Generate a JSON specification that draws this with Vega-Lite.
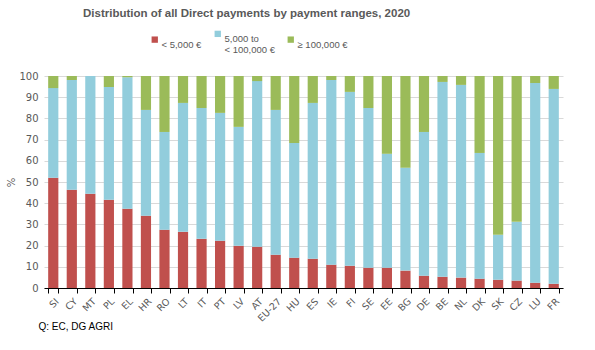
{
  "$schema": "https://vega.github.io/schema/vega-lite/v6.json",
  "width": 519,
  "height": 212,
  "autosize": {"type": "none"},
  "padding": {"left": 44, "top": 76, "right": 32, "bottom": 62},
  "background": "white",
  "title": {
    "text": "Distribution of all Direct payments by payment ranges, 2020",
    "anchor": "start",
    "frame": "group",
    "dx": 39,
    "offset": 10,
    "font": "Liberation Sans",
    "fontSize": 11.5,
    "fontWeight": "bold",
    "color": "#595959"
  },
  "data": {
    "values": [
      {"country": "SI", "range": "< 5,000 €", "value": 52.0},
      {"country": "SI", "range": "5,000 to < 100,000 €", "value": 42.3},
      {"country": "SI", "range": "≥ 100,000 €", "value": 5.7},
      {"country": "CY", "range": "< 5,000 €", "value": 46.3},
      {"country": "CY", "range": "5,000 to < 100,000 €", "value": 51.8},
      {"country": "CY", "range": "≥ 100,000 €", "value": 1.9},
      {"country": "MT", "range": "< 5,000 €", "value": 44.4},
      {"country": "MT", "range": "5,000 to < 100,000 €", "value": 55.6},
      {"country": "MT", "range": "≥ 100,000 €", "value": 0.0},
      {"country": "PL", "range": "< 5,000 €", "value": 41.6},
      {"country": "PL", "range": "5,000 to < 100,000 €", "value": 53.2},
      {"country": "PL", "range": "≥ 100,000 €", "value": 5.2},
      {"country": "EL", "range": "< 5,000 €", "value": 37.4},
      {"country": "EL", "range": "5,000 to < 100,000 €", "value": 62.0},
      {"country": "EL", "range": "≥ 100,000 €", "value": 0.6},
      {"country": "HR", "range": "< 5,000 €", "value": 34.1},
      {"country": "HR", "range": "5,000 to < 100,000 €", "value": 49.9},
      {"country": "HR", "range": "≥ 100,000 €", "value": 16.0},
      {"country": "RO", "range": "< 5,000 €", "value": 27.5},
      {"country": "RO", "range": "5,000 to < 100,000 €", "value": 46.1},
      {"country": "RO", "range": "≥ 100,000 €", "value": 26.4},
      {"country": "LT", "range": "< 5,000 €", "value": 26.5},
      {"country": "LT", "range": "5,000 to < 100,000 €", "value": 60.8},
      {"country": "LT", "range": "≥ 100,000 €", "value": 12.7},
      {"country": "IT", "range": "< 5,000 €", "value": 23.2},
      {"country": "IT", "range": "5,000 to < 100,000 €", "value": 61.7},
      {"country": "IT", "range": "≥ 100,000 €", "value": 15.1},
      {"country": "PT", "range": "< 5,000 €", "value": 22.3},
      {"country": "PT", "range": "5,000 to < 100,000 €", "value": 60.3},
      {"country": "PT", "range": "≥ 100,000 €", "value": 17.4},
      {"country": "LV", "range": "< 5,000 €", "value": 19.9},
      {"country": "LV", "range": "5,000 to < 100,000 €", "value": 56.1},
      {"country": "LV", "range": "≥ 100,000 €", "value": 24.0},
      {"country": "AT", "range": "< 5,000 €", "value": 19.5},
      {"country": "AT", "range": "5,000 to < 100,000 €", "value": 78.1},
      {"country": "AT", "range": "≥ 100,000 €", "value": 2.4},
      {"country": "EU-27", "range": "< 5,000 €", "value": 15.7},
      {"country": "EU-27", "range": "5,000 to < 100,000 €", "value": 68.3},
      {"country": "EU-27", "range": "≥ 100,000 €", "value": 16.0},
      {"country": "HU", "range": "< 5,000 €", "value": 14.3},
      {"country": "HU", "range": "5,000 to < 100,000 €", "value": 54.1},
      {"country": "HU", "range": "≥ 100,000 €", "value": 31.6},
      {"country": "ES", "range": "< 5,000 €", "value": 13.8},
      {"country": "ES", "range": "5,000 to < 100,000 €", "value": 73.5},
      {"country": "ES", "range": "≥ 100,000 €", "value": 12.7},
      {"country": "IE", "range": "< 5,000 €", "value": 11.0},
      {"country": "IE", "range": "5,000 to < 100,000 €", "value": 87.1},
      {"country": "IE", "range": "≥ 100,000 €", "value": 1.9},
      {"country": "FI", "range": "< 5,000 €", "value": 10.5},
      {"country": "FI", "range": "5,000 to < 100,000 €", "value": 82.0},
      {"country": "FI", "range": "≥ 100,000 €", "value": 7.5},
      {"country": "SE", "range": "< 5,000 €", "value": 9.6},
      {"country": "SE", "range": "5,000 to < 100,000 €", "value": 75.3},
      {"country": "SE", "range": "≥ 100,000 €", "value": 15.1},
      {"country": "EE", "range": "< 5,000 €", "value": 9.6},
      {"country": "EE", "range": "5,000 to < 100,000 €", "value": 53.7},
      {"country": "EE", "range": "≥ 100,000 €", "value": 36.7},
      {"country": "BG", "range": "< 5,000 €", "value": 8.2},
      {"country": "BG", "range": "5,000 to < 100,000 €", "value": 48.5},
      {"country": "BG", "range": "≥ 100,000 €", "value": 43.3},
      {"country": "DE", "range": "< 5,000 €", "value": 5.8},
      {"country": "DE", "range": "5,000 to < 100,000 €", "value": 67.8},
      {"country": "DE", "range": "≥ 100,000 €", "value": 26.4},
      {"country": "BE", "range": "< 5,000 €", "value": 5.3},
      {"country": "BE", "range": "5,000 to < 100,000 €", "value": 91.9},
      {"country": "BE", "range": "≥ 100,000 €", "value": 2.8},
      {"country": "NL", "range": "< 5,000 €", "value": 4.9},
      {"country": "NL", "range": "5,000 to < 100,000 €", "value": 90.9},
      {"country": "NL", "range": "≥ 100,000 €", "value": 4.2},
      {"country": "DK", "range": "< 5,000 €", "value": 4.4},
      {"country": "DK", "range": "5,000 to < 100,000 €", "value": 59.3},
      {"country": "DK", "range": "≥ 100,000 €", "value": 36.3},
      {"country": "SK", "range": "< 5,000 €", "value": 3.9},
      {"country": "SK", "range": "5,000 to < 100,000 €", "value": 21.2},
      {"country": "SK", "range": "≥ 100,000 €", "value": 74.9},
      {"country": "CZ", "range": "< 5,000 €", "value": 3.5},
      {"country": "CZ", "range": "5,000 to < 100,000 €", "value": 27.7},
      {"country": "CZ", "range": "≥ 100,000 €", "value": 68.8},
      {"country": "LU", "range": "< 5,000 €", "value": 2.5},
      {"country": "LU", "range": "5,000 to < 100,000 €", "value": 94.2},
      {"country": "LU", "range": "≥ 100,000 €", "value": 3.3},
      {"country": "FR", "range": "< 5,000 €", "value": 2.0},
      {"country": "FR", "range": "5,000 to < 100,000 €", "value": 91.9},
      {"country": "FR", "range": "≥ 100,000 €", "value": 6.1}
    ]
  },
  "transform": [
    {"calculate": "indexof(['< 5,000 €', '5,000 to < 100,000 €', '≥ 100,000 €'], datum.range)", "as": "stackOrder"}
  ],
  "mark": {"type": "bar"},
  "encoding": {
    "x": {
      "field": "country",
      "type": "nominal",
      "sort": null,
      "scale": {"paddingInner": 0.45, "paddingOuter": 0.225},
      "axis": {
        "title": "Q: EC, DG AGRI",
        "titleAnchor": "start",
        "titleAlign": "left",
        "titleX": -6,
        "titleY": 38,
        "titleBaseline": "middle",
        "titleFont": "Liberation Sans",
        "titleFontSize": 10,
        "titleFontWeight": "normal",
        "titleColor": "#000000",
        "labelAngle": -45,
        "labelFont": "DejaVu Sans",
        "labelFontSize": 9.5,
        "labelColor": "#595959",
        "labelPadding": 3,
        "tickBand": "extent",
        "tickColor": "#000000",
        "tickSize": 5,
        "domainColor": "#000000",
        "grid": false
      }
    },
    "y": {
      "field": "value",
      "type": "quantitative",
      "stack": "zero",
      "scale": {"domain": [0, 100], "nice": false},
      "axis": {
        "title": "%",
        "titleFont": "DejaVu Sans",
        "titleFontSize": 10,
        "titleFontWeight": "normal",
        "titleColor": "#595959",
        "titlePadding": 2,
        "values": [0, 10, 20, 30, 40, 50, 60, 70, 80, 90, 100],
        "labelFont": "DejaVu Sans",
        "labelFontSize": 10,
        "labelColor": "#595959",
        "labelPadding": 6,
        "domain": false,
        "ticks": false,
        "grid": true,
        "gridColor": "#D9D9D9",
        "gridWidth": 1
      }
    },
    "color": {
      "field": "range",
      "type": "nominal",
      "scale": {
        "domain": ["< 5,000 €", "5,000 to < 100,000 €", "≥ 100,000 €"],
        "range": ["#C0504D", "#92CDDC", "#9BBB59"]
      },
      "legend": {
        "title": null,
        "orient": "none",
        "direction": "horizontal",
        "legendX": 106,
        "legendY": -47,
        "symbolType": "square",
        "symbolSize": 40,
        "symbolStrokeWidth": 0,
        "labelFont": "Liberation Sans",
        "labelFontSize": 9.5,
        "labelColor": "#595959",
        "labelOffset": 2,
        "labelBaseline": "top",
        "columnPadding": 11,
        "labelExpr": "datum.label == '5,000 to < 100,000 €' ? ['5,000 to', '< 100,000 €'] : datum.label"
      }
    },
    "order": {"field": "stackOrder", "type": "quantitative", "sort": "ascending"}
  },
  "config": {
    "view": {"stroke": null}
  }
}
